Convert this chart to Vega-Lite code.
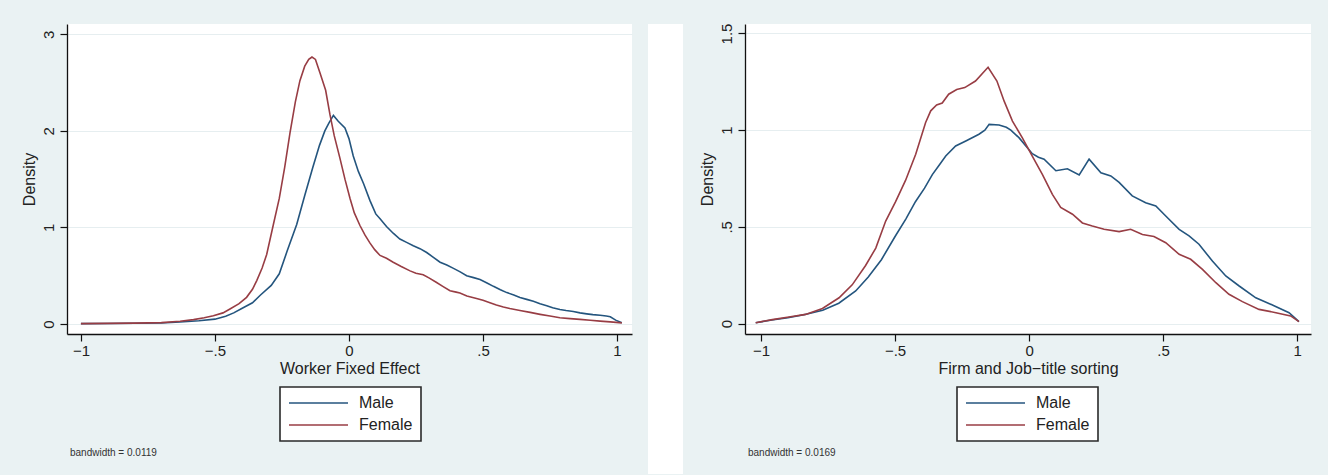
{
  "$schema": "https://vega.github.io/schema/vega-lite/v6.json",
  "background": "#eaf2f3",
  "padding": {"left": 21, "top": 23, "right": 17, "bottom": 2},
  "spacing": 16,
  "datasets": {
    "worker": [
      {"x": -1.0, "density": 0.004, "sex": "Male"},
      {"x": -0.9, "density": 0.005, "sex": "Male"},
      {"x": -0.8, "density": 0.007, "sex": "Male"},
      {"x": -0.7, "density": 0.011, "sex": "Male"},
      {"x": -0.63, "density": 0.02, "sex": "Male"},
      {"x": -0.56, "density": 0.033, "sex": "Male"},
      {"x": -0.5, "density": 0.05, "sex": "Male"},
      {"x": -0.46, "density": 0.08, "sex": "Male"},
      {"x": -0.43, "density": 0.115, "sex": "Male"},
      {"x": -0.4, "density": 0.16, "sex": "Male"},
      {"x": -0.36, "density": 0.22, "sex": "Male"},
      {"x": -0.33, "density": 0.3, "sex": "Male"},
      {"x": -0.29, "density": 0.4, "sex": "Male"},
      {"x": -0.26, "density": 0.52, "sex": "Male"},
      {"x": -0.23, "density": 0.76, "sex": "Male"},
      {"x": -0.195, "density": 1.03, "sex": "Male"},
      {"x": -0.165, "density": 1.33, "sex": "Male"},
      {"x": -0.135, "density": 1.62, "sex": "Male"},
      {"x": -0.11, "density": 1.85, "sex": "Male"},
      {"x": -0.09, "density": 2.0, "sex": "Male"},
      {"x": -0.075, "density": 2.08, "sex": "Male"},
      {"x": -0.058, "density": 2.16, "sex": "Male"},
      {"x": -0.04, "density": 2.1, "sex": "Male"},
      {"x": -0.015, "density": 2.03, "sex": "Male"},
      {"x": 0.0, "density": 1.92, "sex": "Male"},
      {"x": 0.016, "density": 1.74, "sex": "Male"},
      {"x": 0.035, "density": 1.58, "sex": "Male"},
      {"x": 0.055, "density": 1.45, "sex": "Male"},
      {"x": 0.078, "density": 1.28, "sex": "Male"},
      {"x": 0.1, "density": 1.14, "sex": "Male"},
      {"x": 0.116, "density": 1.09, "sex": "Male"},
      {"x": 0.14, "density": 1.01, "sex": "Male"},
      {"x": 0.165, "density": 0.94, "sex": "Male"},
      {"x": 0.19, "density": 0.88, "sex": "Male"},
      {"x": 0.215, "density": 0.845, "sex": "Male"},
      {"x": 0.24, "density": 0.81, "sex": "Male"},
      {"x": 0.265, "density": 0.78, "sex": "Male"},
      {"x": 0.29, "density": 0.74, "sex": "Male"},
      {"x": 0.315, "density": 0.69, "sex": "Male"},
      {"x": 0.34, "density": 0.64, "sex": "Male"},
      {"x": 0.365, "density": 0.61, "sex": "Male"},
      {"x": 0.39, "density": 0.576, "sex": "Male"},
      {"x": 0.415, "density": 0.54, "sex": "Male"},
      {"x": 0.439, "density": 0.5, "sex": "Male"},
      {"x": 0.465, "density": 0.48, "sex": "Male"},
      {"x": 0.489, "density": 0.46, "sex": "Male"},
      {"x": 0.515, "density": 0.425, "sex": "Male"},
      {"x": 0.539, "density": 0.39, "sex": "Male"},
      {"x": 0.565, "density": 0.355, "sex": "Male"},
      {"x": 0.589, "density": 0.325, "sex": "Male"},
      {"x": 0.615, "density": 0.3, "sex": "Male"},
      {"x": 0.638, "density": 0.275, "sex": "Male"},
      {"x": 0.663, "density": 0.255, "sex": "Male"},
      {"x": 0.688, "density": 0.235, "sex": "Male"},
      {"x": 0.713, "density": 0.21, "sex": "Male"},
      {"x": 0.738, "density": 0.19, "sex": "Male"},
      {"x": 0.76, "density": 0.168, "sex": "Male"},
      {"x": 0.787, "density": 0.15, "sex": "Male"},
      {"x": 0.81, "density": 0.14, "sex": "Male"},
      {"x": 0.837, "density": 0.13, "sex": "Male"},
      {"x": 0.862, "density": 0.115, "sex": "Male"},
      {"x": 0.887, "density": 0.105, "sex": "Male"},
      {"x": 0.91, "density": 0.097, "sex": "Male"},
      {"x": 0.937, "density": 0.09, "sex": "Male"},
      {"x": 0.96, "density": 0.083, "sex": "Male"},
      {"x": 0.975, "density": 0.075, "sex": "Male"},
      {"x": 0.995, "density": 0.04, "sex": "Male"},
      {"x": 1.018, "density": 0.012, "sex": "Male"},
      {"x": -1.0, "density": 0.004, "sex": "Female"},
      {"x": -0.9, "density": 0.006, "sex": "Female"},
      {"x": -0.8, "density": 0.009, "sex": "Female"},
      {"x": -0.7, "density": 0.014, "sex": "Female"},
      {"x": -0.63, "density": 0.028, "sex": "Female"},
      {"x": -0.58, "density": 0.045, "sex": "Female"},
      {"x": -0.54, "density": 0.065, "sex": "Female"},
      {"x": -0.506, "density": 0.086, "sex": "Female"},
      {"x": -0.47, "density": 0.115, "sex": "Female"},
      {"x": -0.444, "density": 0.155, "sex": "Female"},
      {"x": -0.41, "density": 0.21, "sex": "Female"},
      {"x": -0.382, "density": 0.276, "sex": "Female"},
      {"x": -0.36, "density": 0.36, "sex": "Female"},
      {"x": -0.344, "density": 0.45, "sex": "Female"},
      {"x": -0.324, "density": 0.58, "sex": "Female"},
      {"x": -0.307, "density": 0.72, "sex": "Female"},
      {"x": -0.282, "density": 1.03, "sex": "Female"},
      {"x": -0.26, "density": 1.3, "sex": "Female"},
      {"x": -0.24, "density": 1.62, "sex": "Female"},
      {"x": -0.22, "density": 1.98, "sex": "Female"},
      {"x": -0.2, "density": 2.3, "sex": "Female"},
      {"x": -0.183, "density": 2.52, "sex": "Female"},
      {"x": -0.165, "density": 2.67, "sex": "Female"},
      {"x": -0.15, "density": 2.74, "sex": "Female"},
      {"x": -0.138, "density": 2.765, "sex": "Female"},
      {"x": -0.125, "density": 2.74, "sex": "Female"},
      {"x": -0.108, "density": 2.6, "sex": "Female"},
      {"x": -0.087, "density": 2.42, "sex": "Female"},
      {"x": -0.071, "density": 2.17, "sex": "Female"},
      {"x": -0.055, "density": 1.95, "sex": "Female"},
      {"x": -0.034, "density": 1.72, "sex": "Female"},
      {"x": -0.015, "density": 1.5, "sex": "Female"},
      {"x": 0.004, "density": 1.3, "sex": "Female"},
      {"x": 0.02, "density": 1.15, "sex": "Female"},
      {"x": 0.041, "density": 1.02, "sex": "Female"},
      {"x": 0.06, "density": 0.92, "sex": "Female"},
      {"x": 0.078, "density": 0.84, "sex": "Female"},
      {"x": 0.096, "density": 0.77, "sex": "Female"},
      {"x": 0.116, "density": 0.71, "sex": "Female"},
      {"x": 0.14, "density": 0.68, "sex": "Female"},
      {"x": 0.165, "density": 0.64, "sex": "Female"},
      {"x": 0.195, "density": 0.595, "sex": "Female"},
      {"x": 0.228, "density": 0.55, "sex": "Female"},
      {"x": 0.25, "density": 0.525, "sex": "Female"},
      {"x": 0.277, "density": 0.51, "sex": "Female"},
      {"x": 0.3, "density": 0.475, "sex": "Female"},
      {"x": 0.327, "density": 0.43, "sex": "Female"},
      {"x": 0.35, "density": 0.39, "sex": "Female"},
      {"x": 0.377, "density": 0.345, "sex": "Female"},
      {"x": 0.4, "density": 0.33, "sex": "Female"},
      {"x": 0.414, "density": 0.32, "sex": "Female"},
      {"x": 0.44, "density": 0.29, "sex": "Female"},
      {"x": 0.476, "density": 0.265, "sex": "Female"},
      {"x": 0.5, "density": 0.245, "sex": "Female"},
      {"x": 0.526, "density": 0.22, "sex": "Female"},
      {"x": 0.55, "density": 0.197, "sex": "Female"},
      {"x": 0.576, "density": 0.175, "sex": "Female"},
      {"x": 0.6, "density": 0.16, "sex": "Female"},
      {"x": 0.638, "density": 0.14, "sex": "Female"},
      {"x": 0.676, "density": 0.12, "sex": "Female"},
      {"x": 0.713, "density": 0.1, "sex": "Female"},
      {"x": 0.75, "density": 0.082, "sex": "Female"},
      {"x": 0.787, "density": 0.065, "sex": "Female"},
      {"x": 0.825, "density": 0.056, "sex": "Female"},
      {"x": 0.862, "density": 0.048, "sex": "Female"},
      {"x": 0.9, "density": 0.038, "sex": "Female"},
      {"x": 0.937, "density": 0.03, "sex": "Female"},
      {"x": 0.975, "density": 0.022, "sex": "Female"},
      {"x": 1.018, "density": 0.012, "sex": "Female"}
    ],
    "sorting": [
      {"x": -1.02, "density": 0.004, "sex": "Male"},
      {"x": -0.96, "density": 0.018, "sex": "Male"},
      {"x": -0.9, "density": 0.03, "sex": "Male"},
      {"x": -0.84, "density": 0.045, "sex": "Male"},
      {"x": -0.77, "density": 0.068, "sex": "Male"},
      {"x": -0.71, "density": 0.105, "sex": "Male"},
      {"x": -0.647, "density": 0.168, "sex": "Male"},
      {"x": -0.6, "density": 0.24, "sex": "Male"},
      {"x": -0.551, "density": 0.33, "sex": "Male"},
      {"x": -0.5, "density": 0.45, "sex": "Male"},
      {"x": -0.46, "density": 0.54, "sex": "Male"},
      {"x": -0.424, "density": 0.63, "sex": "Male"},
      {"x": -0.39, "density": 0.7, "sex": "Male"},
      {"x": -0.361, "density": 0.77, "sex": "Male"},
      {"x": -0.335, "density": 0.82, "sex": "Male"},
      {"x": -0.311, "density": 0.866, "sex": "Male"},
      {"x": -0.274, "density": 0.918, "sex": "Male"},
      {"x": -0.236, "density": 0.944, "sex": "Male"},
      {"x": -0.187, "density": 0.979, "sex": "Male"},
      {"x": -0.165, "density": 1.0, "sex": "Male"},
      {"x": -0.149, "density": 1.03, "sex": "Male"},
      {"x": -0.112, "density": 1.027, "sex": "Male"},
      {"x": -0.085, "density": 1.015, "sex": "Male"},
      {"x": -0.068, "density": 1.0, "sex": "Male"},
      {"x": -0.037, "density": 0.96, "sex": "Male"},
      {"x": 0.012, "density": 0.878, "sex": "Male"},
      {"x": 0.035, "density": 0.86, "sex": "Male"},
      {"x": 0.056, "density": 0.85, "sex": "Male"},
      {"x": 0.1, "density": 0.79, "sex": "Male"},
      {"x": 0.143, "density": 0.8, "sex": "Male"},
      {"x": 0.187, "density": 0.768, "sex": "Male"},
      {"x": 0.224, "density": 0.85, "sex": "Male"},
      {"x": 0.268, "density": 0.78, "sex": "Male"},
      {"x": 0.305, "density": 0.763, "sex": "Male"},
      {"x": 0.336, "density": 0.73, "sex": "Male"},
      {"x": 0.385, "density": 0.66, "sex": "Male"},
      {"x": 0.435, "density": 0.625, "sex": "Male"},
      {"x": 0.473, "density": 0.608, "sex": "Male"},
      {"x": 0.51, "density": 0.556, "sex": "Male"},
      {"x": 0.56, "density": 0.487, "sex": "Male"},
      {"x": 0.597, "density": 0.453, "sex": "Male"},
      {"x": 0.634, "density": 0.41, "sex": "Male"},
      {"x": 0.684, "density": 0.323, "sex": "Male"},
      {"x": 0.734, "density": 0.246, "sex": "Male"},
      {"x": 0.784, "density": 0.194, "sex": "Male"},
      {"x": 0.846, "density": 0.133, "sex": "Male"},
      {"x": 0.908, "density": 0.096, "sex": "Male"},
      {"x": 0.97, "density": 0.056, "sex": "Male"},
      {"x": 1.007, "density": 0.01, "sex": "Male"},
      {"x": -1.02, "density": 0.004, "sex": "Female"},
      {"x": -0.958, "density": 0.02, "sex": "Female"},
      {"x": -0.896, "density": 0.034, "sex": "Female"},
      {"x": -0.834, "density": 0.047, "sex": "Female"},
      {"x": -0.771, "density": 0.078, "sex": "Female"},
      {"x": -0.709, "density": 0.133, "sex": "Female"},
      {"x": -0.66, "density": 0.2, "sex": "Female"},
      {"x": -0.61, "density": 0.3, "sex": "Female"},
      {"x": -0.572, "density": 0.39, "sex": "Female"},
      {"x": -0.535, "density": 0.53, "sex": "Female"},
      {"x": -0.498, "density": 0.63, "sex": "Female"},
      {"x": -0.461, "density": 0.74, "sex": "Female"},
      {"x": -0.423, "density": 0.875, "sex": "Female"},
      {"x": -0.386, "density": 1.04, "sex": "Female"},
      {"x": -0.367, "density": 1.1, "sex": "Female"},
      {"x": -0.345, "density": 1.13, "sex": "Female"},
      {"x": -0.324, "density": 1.14, "sex": "Female"},
      {"x": -0.3, "density": 1.186, "sex": "Female"},
      {"x": -0.27, "density": 1.21, "sex": "Female"},
      {"x": -0.24, "density": 1.22, "sex": "Female"},
      {"x": -0.2, "density": 1.254, "sex": "Female"},
      {"x": -0.153, "density": 1.325, "sex": "Female"},
      {"x": -0.12, "density": 1.254, "sex": "Female"},
      {"x": -0.093, "density": 1.15, "sex": "Female"},
      {"x": -0.062, "density": 1.047, "sex": "Female"},
      {"x": -0.025, "density": 0.96, "sex": "Female"},
      {"x": 0.012, "density": 0.866, "sex": "Female"},
      {"x": 0.05, "density": 0.77, "sex": "Female"},
      {"x": 0.087, "density": 0.668, "sex": "Female"},
      {"x": 0.118, "density": 0.6, "sex": "Female"},
      {"x": 0.162, "density": 0.565, "sex": "Female"},
      {"x": 0.199, "density": 0.52, "sex": "Female"},
      {"x": 0.236, "density": 0.504, "sex": "Female"},
      {"x": 0.28, "density": 0.487, "sex": "Female"},
      {"x": 0.336, "density": 0.475, "sex": "Female"},
      {"x": 0.379, "density": 0.487, "sex": "Female"},
      {"x": 0.423, "density": 0.46, "sex": "Female"},
      {"x": 0.466, "density": 0.45, "sex": "Female"},
      {"x": 0.51, "density": 0.418, "sex": "Female"},
      {"x": 0.56, "density": 0.358, "sex": "Female"},
      {"x": 0.603, "density": 0.332, "sex": "Female"},
      {"x": 0.647, "density": 0.28, "sex": "Female"},
      {"x": 0.697, "density": 0.211, "sex": "Female"},
      {"x": 0.746, "density": 0.151, "sex": "Female"},
      {"x": 0.796, "density": 0.113, "sex": "Female"},
      {"x": 0.858, "density": 0.073, "sex": "Female"},
      {"x": 0.921, "density": 0.056, "sex": "Female"},
      {"x": 0.976, "density": 0.039, "sex": "Female"},
      {"x": 1.007, "density": 0.01, "sex": "Female"}
    ]
  },
  "hconcat": [
    {
      "width": 565,
      "height": 310,
      "data": {"name": "worker"},
      "title": {"text": "bandwidth = 0.0119"},
      "mark": {"type": "line", "strokeWidth": 1.6},
      "encoding": {
        "x": {
          "field": "x", "type": "quantitative",
          "scale": {"domain": [-1.052, 1.056], "nice": false, "zero": false},
          "axis": {"title": "Worker Fixed Effect", "values": [-1, -0.5, 0, 0.5, 1]}
        },
        "y": {
          "field": "density", "type": "quantitative",
          "scale": {"domain": [-0.1036, 3.1067], "nice": false, "zero": false},
          "axis": {"title": "Density", "values": [0, 1, 2, 3]}
        },
        "color": {
          "field": "sex", "type": "nominal",
          "scale": {"domain": ["Male", "Female"], "range": ["#24557e", "#983d44"]},
          "legend": {"title": null, "orient": "none", "legendX": 213, "legendY": 363}
        }
      }
    },
    {
      "width": 35,
      "height": 450,
      "view": {"fill": "white", "stroke": null},
      "data": {"values": []},
      "mark": "point"
    },
    {
      "width": 566,
      "height": 310,
      "data": {"name": "sorting"},
      "title": {"text": "bandwidth = 0.0169"},
      "mark": {"type": "line", "strokeWidth": 1.6},
      "encoding": {
        "x": {
          "field": "x", "type": "quantitative",
          "scale": {"domain": [-1.06, 1.052], "nice": false, "zero": false},
          "axis": {"title": "Firm and Job−title sorting", "values": [-1, -0.5, 0, 0.5, 1]}
        },
        "y": {
          "field": "density", "type": "quantitative",
          "scale": {"domain": [-0.0543, 1.549], "nice": false, "zero": false},
          "axis": {"title": "Density", "values": [0, 0.5, 1, 1.5]}
        },
        "color": {
          "field": "sex", "type": "nominal",
          "scale": {"domain": ["Male", "Female"], "range": ["#24557e", "#983d44"]},
          "legend": {"title": null, "orient": "none", "legendX": 212, "legendY": 363}
        }
      }
    }
  ],
  "resolve": {
    "scale": {"color": "independent"},
    "legend": {"color": "independent"}
  },
  "config": {
    "font": "Liberation Sans",
    "view": {"fill": "white", "stroke": null},
    "axis": {
      "domainColor": "#111111",
      "domainWidth": 1.3,
      "tickColor": "#111111",
      "tickSize": 7,
      "tickWidth": 1.2,
      "labelFont": "Liberation Sans",
      "labelFontSize": 15,
      "labelColor": "#222222",
      "labelFlush": false,
      "labelOverlap": false,
      "titleFont": "Liberation Sans",
      "titleFontSize": 16,
      "titleFontWeight": "normal",
      "titleColor": "#222222",
      "gridColor": "#e6eef0",
      "gridWidth": 1.2,
      "labelExpr": "replace(replace(format(datum.value, '~g'), '0.', '.'), '-', '−')"
    },
    "axisX": {"grid": false, "labelPadding": 2, "titlePadding": 2},
    "axisY": {"grid": true, "labelAngle": 270, "labelAlign": "center", "labelBaseline": "bottom", "labelPadding": 4, "titlePadding": 4},
    "legend": {
      "direction": "vertical",
      "symbolType": "stroke",
      "symbolSize": 3481,
      "symbolStrokeWidth": 1.6,
      "clipHeight": 16,
      "rowPadding": 6,
      "labelOffset": 10,
      "padding": 8,
      "fillColor": "white",
      "strokeColor": "#2a2a2a",
      "strokeWidth": 1.6,
      "labelFont": "Liberation Sans",
      "labelFontSize": 16,
      "labelColor": "#222222"
    },
    "title": {
      "orient": "bottom",
      "anchor": "start",
      "frame": "group",
      "font": "Liberation Sans",
      "fontSize": 10,
      "fontWeight": "normal",
      "color": "#333333",
      "offset": 6,
      "dx": 3
    }
  }
}
